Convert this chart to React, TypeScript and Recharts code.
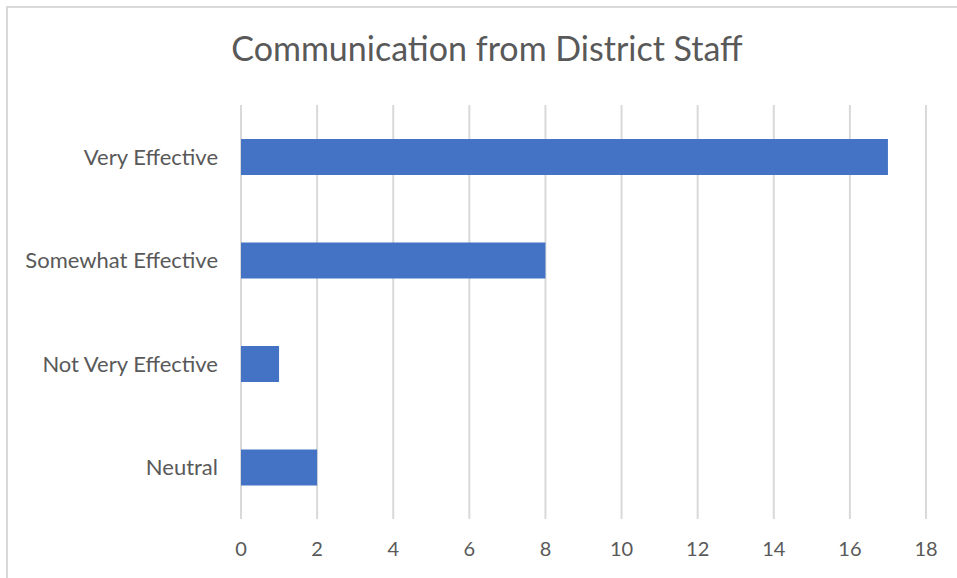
import { BarChart, Bar, XAxis, YAxis, CartesianGrid } from "recharts";

const categories = ["Very Effective", "Somewhat Effective", "Not Very Effective", "Neutral"];
const counts = [17, 8, 1, 2];
const xTicks = [0, 2, 4, 6, 8, 10, 12, 14, 16, 18];

const data = categories.map((name, i) => ({ name, value: counts[i] }));

const FONT = "Lato, 'Open Sans', sans-serif";

export default function App() {
  return (
    <div style={{ position: "absolute", left: 0, top: 0, width: 957, height: 578, background: "#fff", fontFamily: FONT }}>
      {/* chart frame, only top/left edges show in the shot */}
      <div
        style={{
          position: "absolute",
          left: 6,
          top: 6,
          width: 970,
          height: 590,
          borderLeft: "2px solid #d9d9d9",
          borderTop: "2px solid #d9d9d9",
        }}
      />
      <div
        style={{
          position: "absolute",
          left: 0,
          width: 974,
          top: 27,
          textAlign: "center",
          fontSize: 34,
          color: "#595959",
          lineHeight: "42px",
        }}
      >
        Communication from District Staff
      </div>
      <div style={{ position: "absolute", left: 0, top: 0 }}>
        <BarChart
          width={957}
          height={578}
          data={data}
          layout="vertical"
          margin={{ top: 105, right: 31, bottom: 29, left: 0 }}
        >
          <CartesianGrid horizontal={false} stroke="#d9d9d9" strokeWidth={2} />
          <XAxis
            type="number"
            domain={[0, 18]}
            ticks={xTicks}
            height={30}
            axisLine={false}
            tickLine={false}
            tickSize={0}
            tickMargin={23}
            tick={{ fill: "#595959", fontSize: 20, fontFamily: FONT }}
          />
          <YAxis
            type="category"
            dataKey="name"
            width={241}
            axisLine={false}
            tickLine={false}
            tickSize={0}
            tickMargin={23}
            tick={{ fill: "#595959", fontSize: 22, fontFamily: FONT }}
          />
          <Bar dataKey="value" fill="#4472C4" barSize={36} isAnimationActive={false} />
        </BarChart>
      </div>
    </div>
  );
}
